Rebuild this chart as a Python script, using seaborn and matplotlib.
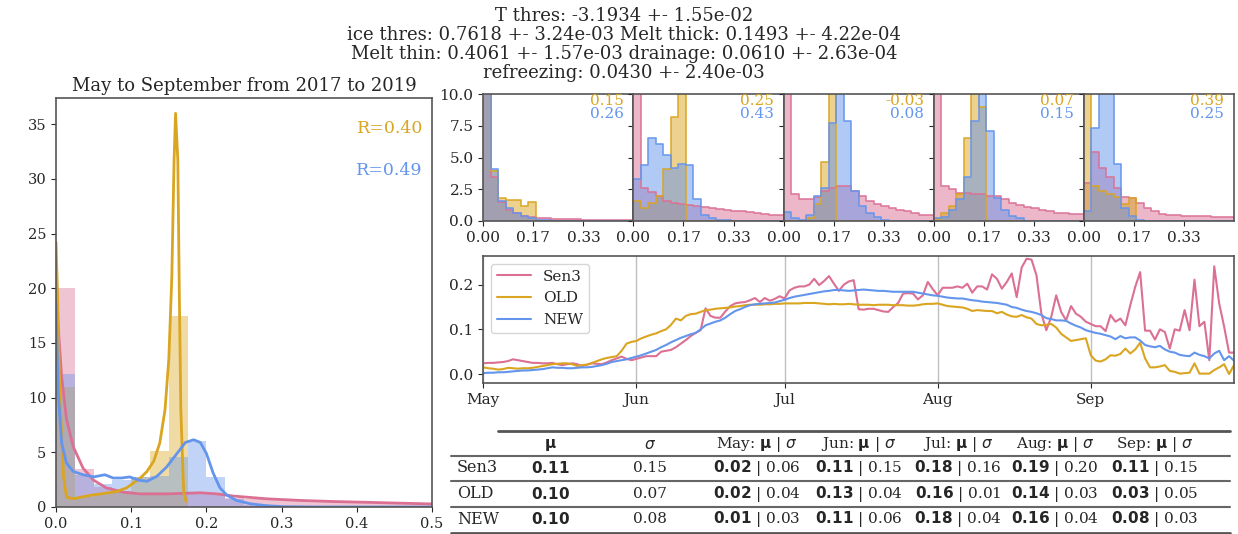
import numpy as np
import pandas as pd
import matplotlib
matplotlib.use("Agg")
import matplotlib.pyplot as plt
import matplotlib.dates as mdates
import seaborn as sns

# ---------------- data ----------------
series_names = ["Sen3", "OLD", "NEW"]
series_colors = ["palevioletred", "goldenrod", "cornflowerblue"]
months = ["May", "Jun", "Jul", "Aug", "Sep"]

# density histograms (bins of 0.025 from 0 to 0.5), whole season
bin_width = 0.025
sen3_hist_all = [20.0, 3.5, 1.8, 1.5, 1.3, 1.2, 1.2, 1.2, 1.2, 0.8,
                 0.75, 0.7, 0.62, 0.55, 0.5, 0.45, 0.42, 0.38, 0.35, 0.3]
old_hist_all = [11.0, 0.9, 1.2, 1.5, 2.7, 5.1, 17.5, 0, 0, 0,
                0, 0, 0, 0, 0, 0, 0, 0, 0, 0]
new_hist_all = [12.2, 2.95, 2.1, 2.45, 2.7, 2.85, 4.6, 6.0, 2.7, 0.7,
                0.2, 0.05, 0, 0, 0, 0, 0, 0, 0, 0]

# kde curves
sen3_kde_x = [0.0, 0.003, 0.0075, 0.014, 0.023, 0.036, 0.05, 0.067, 0.09, 0.112,
              0.147, 0.192, 0.214, 0.236, 0.28, 0.325, 0.369, 0.413, 0.458, 0.5]
sen3_kde_y = [19.2, 16.5, 11.9, 8.0, 5.5, 3.55, 2.45, 1.75, 1.35, 1.2,
              1.2, 1.3, 1.2, 1.0, 0.75, 0.6, 0.5, 0.43, 0.35, 0.28]
old_kde_x = [0.0, 0.002, 0.005, 0.01, 0.014, 0.023, 0.04, 0.059, 0.08, 0.094,
             0.103, 0.112, 0.121, 0.13, 0.138, 0.145, 0.15, 0.154, 0.157, 0.159,
             0.162, 0.164, 0.166, 0.169, 0.17, 0.173]
old_kde_y = [24.2, 19.5, 10.4, 2.8, 0.9, 0.75, 1.0, 1.2, 1.4, 1.75,
             2.2, 2.65, 3.25, 4.2, 5.85, 8.9, 13.5, 21.0, 31.7, 36.0,
             31.7, 19.5, 8.9, 2.8, 1.3, 0.5]
new_kde_x = [0.0, 0.003, 0.0075, 0.014, 0.023, 0.036, 0.05, 0.065, 0.076, 0.087,
             0.098, 0.11, 0.121, 0.134, 0.147, 0.161, 0.172, 0.183, 0.192, 0.2,
             0.209, 0.218, 0.227, 0.24, 0.258, 0.28, 0.303, 0.35, 0.4, 0.5]
new_kde_y = [18.6, 10.4, 5.85, 4.0, 3.25, 2.95, 2.75, 2.95, 2.65, 2.65,
             2.75, 2.45, 2.35, 2.8, 3.65, 4.9, 5.9, 6.15, 5.9, 4.9,
             3.1, 1.75, 1.1, 0.6, 0.3, 0.12, 0.03, 0.0, 0.0, 0.0]
r_old = 0.40
r_new = 0.49

# monthly density histograms (same bins), May..Sep
sen3_hist_month = [
    [25, 3.5, 1.5, 0.9, 0.6, 0.4, 0.3, 0.25, 0.2, 0.18, 0.15, 0.13, 0.12, 0.1, 0.1, 0.08, 0.08, 0.07, 0.06, 0.05],
    [25, 2.6, 2.3, 2.0, 1.6, 1.4, 1.3, 1.25, 1.2, 1.1, 1.0, 0.95, 0.9, 0.8, 0.75, 0.7, 0.6, 0.55, 0.5, 0.45],
    [25, 2.1, 1.75, 1.75, 1.9, 2.4, 2.6, 2.75, 2.75, 2.4, 2.0, 1.6, 1.35, 1.2, 1.05, 0.9, 0.75, 0.6, 0.5, 0.45],
    [25, 2.75, 2.5, 2.2, 2.2, 2.15, 2.15, 2.0, 1.95, 1.7, 1.45, 1.25, 1.1, 1.0, 0.85, 0.75, 0.65, 0.6, 0.58, 0.58],
    [3.0, 5.4, 4.2, 3.5, 2.6, 1.9, 1.8, 1.45, 1.05, 0.75, 0.58, 0.5, 0.45, 0.4, 0.4, 0.4, 0.4, 0.35, 0.3, 0.3],
]
old_hist_month = [
    [25, 3.9, 1.8, 1.65, 1.65, 1.2, 1.5, 0, 0, 0, 0, 0, 0, 0, 0, 0, 0, 0, 0, 0],
    [1.6, 1.0, 1.45, 2.0, 4.1, 8.2, 25, 0, 0, 0, 0, 0, 0, 0, 0, 0, 0, 0, 0, 0],
    [0, 0, 0, 0.25, 1.3, 4.65, 25, 0, 0, 0, 0, 0, 0, 0, 0, 0, 0, 0, 0, 0],
    [0.15, 0.6, 1.2, 2.15, 6.5, 25, 9.0, 0, 0, 0, 0, 0, 0, 0, 0, 0, 0, 0, 0, 0],
    [25, 2.75, 2.4, 2.1, 1.9, 1.3, 1.8, 0, 0, 0, 0, 0, 0, 0, 0, 0, 0, 0, 0, 0],
]
new_hist_month = [
    [30, 4.1, 1.6, 1.0, 0.6, 0.4, 0.25, 0.1, 0.05, 0.02, 0, 0, 0, 0, 0, 0, 0, 0, 0, 0],
    [3.3, 4.4, 6.5, 6.1, 5.2, 4.2, 4.5, 4.4, 1.7, 0.5, 0.25, 0.1, 0.05, 0, 0, 0, 0, 0, 0, 0],
    [0.7, 0.2, 0.05, 0.5, 2.0, 2.6, 7.7, 25, 7.85, 2.35, 1.2, 0.65, 0.3, 0.1, 0, 0, 0, 0, 0, 0],
    [0.2, 0.3, 0.85, 1.7, 3.5, 7.85, 25, 7.1, 1.85, 0.9, 0.4, 0.2, 0, 0, 0, 0, 0, 0, 0, 0],
    [0.75, 7.3, 25, 25, 4.5, 1.05, 0.4, 0.1, 0, 0, 0, 0, 0, 0, 0, 0, 0, 0, 0, 0],
]
r_old_month = [0.15, 0.25, -0.03, 0.07, 0.39]
r_new_month = [0.26, 0.43, 0.08, 0.15, 0.25]

# daily mean time series, 1 May .. 30 Sep
dates = pd.date_range("2019-05-01", "2019-09-30", freq="D")
sen3_daily = [
    0.024, 0.025, 0.025, 0.026, 0.027, 0.029, 0.033, 0.031, 0.029, 0.027,
    0.025, 0.025, 0.024, 0.024, 0.025, 0.022, 0.020, 0.022, 0.024, 0.022,
    0.018, 0.021, 0.024, 0.023, 0.022, 0.026, 0.031, 0.035, 0.039, 0.034,
    0.031, 0.034, 0.037, 0.040, 0.040, 0.040, 0.050, 0.052, 0.054, 0.060,
    0.068, 0.076, 0.085, 0.092, 0.098, 0.147, 0.130, 0.126, 0.126, 0.140,
    0.152, 0.158, 0.160, 0.161, 0.165, 0.170, 0.161, 0.170, 0.164, 0.168,
    0.174, 0.169, 0.187, 0.193, 0.196, 0.196, 0.200, 0.213, 0.199, 0.208,
    0.219, 0.202, 0.186, 0.200, 0.207, 0.210, 0.145, 0.144, 0.146, 0.146,
    0.143, 0.140, 0.139, 0.150, 0.159, 0.180, 0.181, 0.180, 0.167, 0.176,
    0.206, 0.190, 0.176, 0.193, 0.193, 0.193, 0.196, 0.193, 0.202, 0.182,
    0.196, 0.196, 0.189, 0.223, 0.213, 0.191, 0.206, 0.225, 0.172, 0.238,
    0.258, 0.256, 0.221, 0.135, 0.098, 0.128, 0.176, 0.139, 0.120, 0.152,
    0.135, 0.128, 0.117, 0.112, 0.107, 0.107, 0.096, 0.132, 0.117, 0.124,
    0.109, 0.154, 0.195, 0.228, 0.097, 0.097, 0.077, 0.100, 0.094, 0.057,
    0.100, 0.097, 0.143, 0.098, 0.211, 0.107, 0.117, 0.031, 0.241, 0.158,
    0.106, 0.048, 0.048,
]
old_daily = [
    0.015, 0.013, 0.012, 0.010, 0.011, 0.014, 0.013, 0.012, 0.013, 0.013,
    0.014, 0.016, 0.018, 0.020, 0.022, 0.023, 0.024, 0.024, 0.022, 0.018,
    0.020, 0.021, 0.025, 0.029, 0.033, 0.036, 0.038, 0.040, 0.052, 0.068,
    0.072, 0.074, 0.080, 0.084, 0.088, 0.091, 0.096, 0.100, 0.110, 0.124,
    0.120, 0.130, 0.134, 0.135, 0.139, 0.143, 0.144, 0.146, 0.147, 0.148,
    0.149, 0.151, 0.152, 0.154, 0.155, 0.155, 0.155, 0.156, 0.156, 0.157,
    0.157, 0.158, 0.158, 0.158, 0.158, 0.159, 0.159, 0.159, 0.158, 0.157,
    0.156, 0.157, 0.156, 0.156, 0.157, 0.156, 0.155, 0.155, 0.155, 0.154,
    0.155, 0.155, 0.155, 0.154, 0.154, 0.154, 0.153, 0.153, 0.154, 0.156,
    0.157, 0.157, 0.158, 0.155, 0.152, 0.151, 0.150, 0.149, 0.146, 0.141,
    0.143, 0.142, 0.141, 0.141, 0.136, 0.139, 0.133, 0.129, 0.128, 0.132,
    0.127, 0.124, 0.112, 0.109, 0.110, 0.112, 0.104, 0.090, 0.082, 0.074,
    0.076, 0.078, 0.080, 0.042, 0.030, 0.028, 0.033, 0.042, 0.041, 0.045,
    0.057, 0.046, 0.055, 0.070, 0.035, 0.015, 0.015, 0.017, 0.020, 0.007,
    0.005, 0.001, 0.002, 0.003, 0.024, 0.001, 0.001, 0.001, 0.009, 0.015,
    0.022, 0.000, 0.020,
]
new_daily = [
    0.002, 0.003, 0.003, 0.004, 0.004, 0.005, 0.006, 0.007, 0.008, 0.008,
    0.009, 0.010, 0.011, 0.013, 0.015, 0.014, 0.014, 0.013, 0.013, 0.014,
    0.015, 0.015, 0.016, 0.018, 0.020, 0.023, 0.027, 0.029, 0.031, 0.033,
    0.036, 0.039, 0.042, 0.046, 0.050, 0.054, 0.060, 0.065, 0.071, 0.076,
    0.081, 0.085, 0.089, 0.092, 0.100, 0.109, 0.113, 0.117, 0.120, 0.126,
    0.134, 0.141, 0.145, 0.150, 0.154, 0.156, 0.157, 0.158, 0.159, 0.160,
    0.163, 0.166, 0.170, 0.173, 0.175, 0.177, 0.179, 0.181, 0.183, 0.185,
    0.186, 0.188, 0.188, 0.187, 0.186, 0.187, 0.188, 0.189, 0.188, 0.187,
    0.186, 0.186, 0.185, 0.184, 0.184, 0.184, 0.184, 0.184, 0.182, 0.180,
    0.178, 0.176, 0.175, 0.173, 0.171, 0.170, 0.169, 0.169, 0.167, 0.165,
    0.164, 0.162, 0.161, 0.160, 0.159, 0.157, 0.155, 0.150, 0.148, 0.144,
    0.141, 0.139, 0.136, 0.132, 0.125, 0.123, 0.120, 0.120, 0.119, 0.113,
    0.108, 0.104, 0.098, 0.095, 0.092, 0.090, 0.087, 0.084, 0.078, 0.085,
    0.080, 0.082, 0.082, 0.075, 0.065, 0.062, 0.060, 0.063, 0.055, 0.050,
    0.048, 0.043, 0.041, 0.040, 0.048, 0.043, 0.040, 0.035, 0.046, 0.052,
    0.031, 0.040, 0.030,
]

# summary table
mu_all = [0.11, 0.10, 0.10]
sigma_all = [0.15, 0.07, 0.08]
sen3_mu_month = [0.02, 0.11, 0.18, 0.19, 0.11]
sen3_sigma_month = [0.06, 0.15, 0.16, 0.20, 0.15]
old_mu_month = [0.02, 0.13, 0.16, 0.14, 0.03]
old_sigma_month = [0.04, 0.04, 0.01, 0.03, 0.05]
new_mu_month = [0.01, 0.11, 0.18, 0.16, 0.08]
new_sigma_month = [0.03, 0.06, 0.04, 0.04, 0.03]

param_text = ("T thres: -3.1934 +- 1.55e-02\n"
              "ice thres: 0.7618 +- 3.24e-03 Melt thick: 0.1493 +- 4.22e-04\n"
              "Melt thin: 0.4061 +- 1.57e-03 drainage: 0.0610 +- 2.63e-04\n"
              "refreezing: 0.0430 +- 2.40e-03")

# ---------------- style ----------------
sns.set_style("ticks")
plt.rcParams["font.family"] = ["DejaVu Serif"]
plt.rcParams["mathtext.fontset"] = "dejavusans"
plt.rcParams["axes.edgecolor"] = "#555555"
plt.rcParams["axes.linewidth"] = 1.2

W, H = 1238, 534
fig = plt.figure(figsize=(W / 100, H / 100), dpi=100)


def box(x0, y0, x1, y1):
    # pixel box (top-left origin) -> figure fraction rect
    return [x0 / W, 1 - y1 / H, (x1 - x0) / W, (y1 - y0) / H]


centers = list(np.arange(len(sen3_hist_all)) * bin_width + bin_width / 2)


def hist(ax, heights, color, **kw):
    df = pd.DataFrame({"x": centers, "w": heights})
    sns.histplot(data=df, x="x", weights="w", binwidth=bin_width, binrange=(0, 0.5),
                 stat="count", color=color, ax=ax, **kw)


# ---------------- left: whole-season distributions ----------------
ax_left = fig.add_axes(box(56, 98, 432, 507))
for h, c in zip([sen3_hist_all, old_hist_all, new_hist_all], series_colors):
    hist(ax_left, h, c, alpha=0.4, linewidth=0)
for kx, ky, c in zip([sen3_kde_x, old_kde_x, new_kde_x],
                     [sen3_kde_y, old_kde_y, new_kde_y], series_colors):
    sns.lineplot(x=kx, y=ky, color=c, lw=2, sort=False, estimator=None, ax=ax_left)
ax_left.set_xlim(0, 0.5)
ax_left.set_ylim(0, 37.4)
ax_left.set_ylabel("")
ax_left.set_xlabel("")
ax_left.tick_params(labelsize=10.5)
ax_left.set_title("May to September from 2017 to 2019", fontsize=13, pad=5)
ax_left.text(0.488, 34.6, f"R={r_old:.2f}", color=series_colors[1], fontsize=12.5,
             ha="right", va="center")
ax_left.text(0.488, 30.8, f"R={r_new:.2f}", color=series_colors[2], fontsize=12.5,
             ha="right", va="center")

# ---------------- top right: monthly histograms ----------------
panel_w = (1234 - 483.3) / 5
for i, m in enumerate(months):
    x0 = 483.3 + i * panel_w
    ax = fig.add_axes(box(x0, 94, x0 + panel_w, 221))
    for h, c in zip([sen3_hist_month[i], old_hist_month[i], new_hist_month[i]], series_colors):
        hist(ax, h, c, element="step", fill=True, alpha=0.5, linewidth=0)
        hist(ax, h, c, element="step", fill=False, linewidth=1.2, alpha=0.9)
    ax.set_xlim(0, 0.5)
    ax.set_ylim(0, 10)
    ax.set_xticks([0, 1 / 6, 1 / 3])
    ax.set_xticklabels(["0.00", "0.17", "0.33"])
    ax.set_yticks([0, 2.5, 5, 7.5, 10])
    if i == 0:
        ax.set_yticklabels(["0.0", "2.5", "5.0", "7.5", "10.0"])
    else:
        ax.set_yticklabels([])
    ax.set_ylabel("")
    ax.set_xlabel("")
    ax.tick_params(labelsize=11)
    ax.text(0.935, 0.943, f"{r_old_month[i]:.2f}", color=series_colors[1], fontsize=11,
            ha="right", va="center", transform=ax.transAxes)
    ax.text(0.935, 0.845, f"{r_new_month[i]:.2f}", color=series_colors[2], fontsize=11,
            ha="right", va="center", transform=ax.transAxes)

# ---------------- middle right: daily time series ----------------
ts_df = pd.DataFrame({
    "date": np.tile(dates, 3),
    "value": sen3_daily + old_daily + new_daily,
    "series": np.repeat(series_names, len(dates)),
})
ax_ts = fig.add_axes(box(483.3, 256, 1234, 383))
sns.lineplot(data=ts_df, x="date", y="value", hue="series", hue_order=series_names,
             palette=dict(zip(series_names, series_colors)), lw=1.5, ax=ax_ts)
ax_ts.set_xlim(dates[0], dates[-1])
ax_ts.set_ylim(-0.02, 0.264)
ax_ts.set_yticks([0.0, 0.1, 0.2])
ax_ts.xaxis.set_major_locator(mdates.MonthLocator())
ax_ts.xaxis.set_major_formatter(mdates.DateFormatter("%b"))
ax_ts.grid(axis="x", color="#c0c0c0", lw=1)
ax_ts.set_xlabel("")
ax_ts.set_ylabel("")
ax_ts.tick_params(labelsize=11)
ax_ts.legend(loc="upper left", fontsize=11, frameon=True, handlelength=2.2)

# ---------------- bottom right: summary table ----------------
ax_tab = fig.add_axes([0, 0, 1, 1], zorder=-1)
ax_tab.set_xlim(0, W)
ax_tab.set_ylim(H, 0)
ax_tab.axis("off")

col_x = [550, 650, 757, 859, 958, 1055, 1155]
row_y = [468, 494, 519]
header = [r"$\mathbf{\mu}$", r"$\sigma$"] + [m + r": $\mathbf{\mu}$ | $\sigma$" for m in months]
for x, t in zip(col_x, header):
    ax_tab.text(x, 445, t, ha="center", va="center", fontsize=11)

mu_month_rows = [sen3_mu_month, old_mu_month, new_mu_month]
sigma_month_rows = [sen3_sigma_month, old_sigma_month, new_sigma_month]
for r, name in enumerate(series_names):
    y = row_y[r]
    ax_tab.text(457, y, name, ha="left", va="center", fontsize=11.5)
    ax_tab.text(col_x[0], y, r"$\mathbf{%.2f}$" % mu_all[r], ha="center", va="center", fontsize=11)
    ax_tab.text(col_x[1], y, "%.2f" % sigma_all[r], ha="center", va="center", fontsize=11)
    for k in range(5):
        ax_tab.text(col_x[2 + k], y,
                    r"$\mathbf{%.2f}$ | %.2f" % (mu_month_rows[r][k], sigma_month_rows[r][k]),
                    ha="center", va="center", fontsize=11)

ax_tab.plot([498, 1230], [431, 431], color="#555555", lw=2)
for yl in [456, 481, 507]:
    ax_tab.plot([451, 1230], [yl, yl], color="#666666", lw=1.5)
ax_tab.plot([451, 1230], [533, 533], color="#555555", lw=2)

# ---------------- parameters header ----------------
fig.text(0.504, 0.987, param_text, ha="center", va="top", fontsize=13, linespacing=1.07)

fig.savefig("out.png", dpi=100)
